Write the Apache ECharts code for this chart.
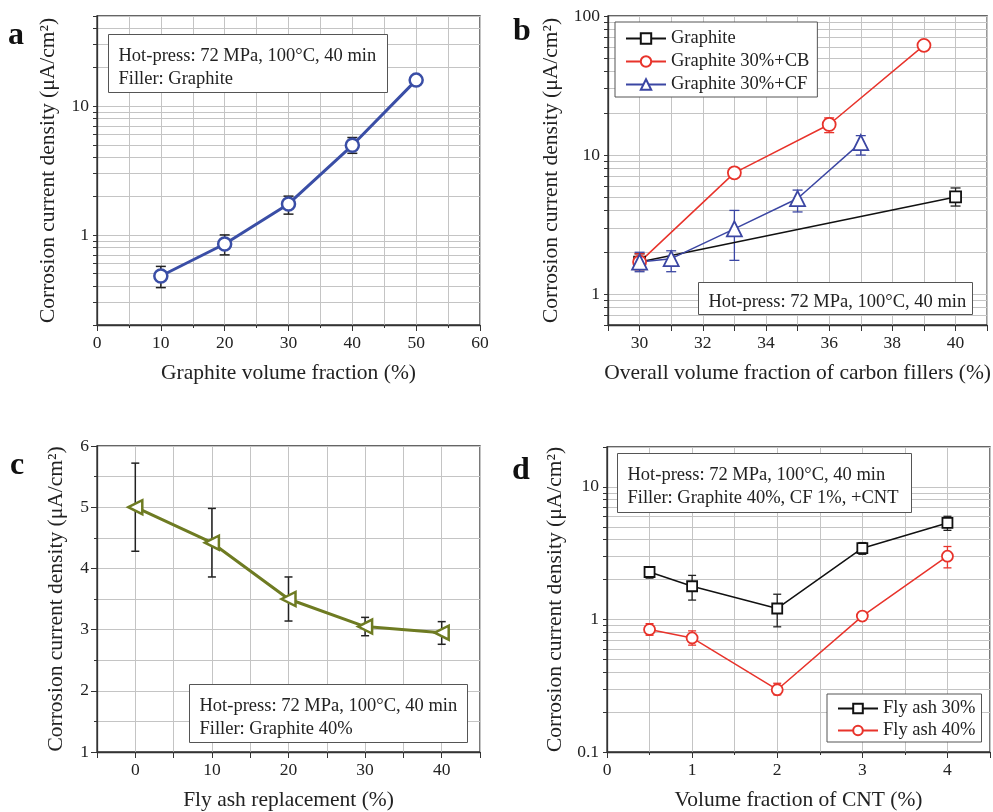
<!DOCTYPE html>
<html><head><meta charset="utf-8">
<script src="https://cdn.jsdelivr.net/npm/echarts@6/dist/echarts.min.js"></script>
<style>html,body{margin:0;padding:0;background:#fff}#c{width:993px;height:812px}</style>
</head><body><div id="c"></div>
<script>
// ---- Panel a ----
const aX = [10, 20, 30, 40, 50];
const aY = [0.48, 0.85, 1.74, 4.96, 15.9];
const aLo = [0.39, 0.70, 1.45, 4.30, 15.0];
const aHi = [0.57, 1.00, 2.00, 5.70, 17.0];
// ---- Panel b ----
const bGrX = [30, 40];
const bGrY = [1.70, 5.00];
const bGrLo = [1.50, 4.30];
const bGrHi = [1.95, 5.80];
const bCbX = [30, 33, 36, 39];
const bCbY = [1.70, 7.45, 16.6, 61.5];
const bCbLo = [1.50, 6.90, 14.5, 57.0];
const bCbHi = [1.95, 8.00, 18.5, 66.0];
const bCfX = [30, 31, 33, 35, 37];
const bCfY = [1.70, 1.80, 2.95, 4.87, 12.3];
const bCfLo = [1.45, 1.45, 1.75, 3.90, 10.0];
const bCfHi = [2.00, 2.05, 4.00, 5.60, 13.8];
// ---- Panel c ----
const cX = [0, 10, 20, 30, 40];
const cY = [5.00, 4.42, 3.50, 3.05, 2.95];
const cLo = [4.28, 3.86, 3.14, 2.90, 2.76];
const cHi = [5.72, 4.98, 3.86, 3.20, 3.13];
// ---- Panel d ----
const dX = [0.5, 1, 2, 3, 4];
const d30Y = [2.28, 1.78, 1.21, 3.45, 5.35];
const d30Lo = [2.05, 1.40, 0.88, 3.10, 4.70];
const d30Hi = [2.50, 2.15, 1.55, 3.80, 6.00];
const d40Y = [0.84, 0.725, 0.295, 1.06, 3.00];
const d40Lo = [0.76, 0.64, 0.27, 1.00, 2.45];
const d40Hi = [0.93, 0.82, 0.33, 1.12, 3.55];
// ---- tick values ----
const aYTicks = [0.2,0.3,0.4,0.5,0.6,0.7,0.8,0.9,1,2,3,4,5,6,7,8,9,10,20,30,40,50];
const aYLabels = [1, 10];
const bYTicks = [0.6,0.7,0.8,0.9,1,2,3,4,5,6,7,8,9,10,20,30,40,50,60,70,80,90,100];
const bYLabels = [1, 10, 100];
const dYTicks = [0.1,0.2,0.3,0.4,0.5,0.6,0.7,0.8,0.9,1,2,3,4,5,6,7,8,9,10,20];
const dYLabels = [0.1, 1, 10];

const FONT = 'Liberation Serif';
const TXT = '#222';
const GRID_C = '#c4c4c4';

function pairs(xs, ys) { return xs.map((x, i) => [x, ys[i]]); }
function errs(xs, lo, hi) { return xs.map((x, i) => [x, lo[i], hi[i]]); }

function errRender(cap, color, w) {
  return function (params, api) {
    const x = api.value(0), lo = api.value(1), hi = api.value(2);
    const p1 = api.coord([x, lo]), p2 = api.coord([x, hi]);
    const st = { stroke: color, lineWidth: w };
    return { type: 'group', children: [
      { type: 'line', shape: { x1: p1[0], y1: p1[1], x2: p2[0], y2: p2[1] }, style: st },
      { type: 'line', shape: { x1: p1[0] - cap, y1: p1[1], x2: p1[0] + cap, y2: p1[1] }, style: st },
      { type: 'line', shape: { x1: p2[0] - cap, y1: p2[1], x2: p2[0] + cap, y2: p2[1] }, style: st }
    ]};
  };
}
function errSeries(gi, data, cap, color, w) {
  return { type: 'custom', xAxisIndex: gi, yAxisIndex: gi, data: data,
    renderItem: errRender(cap, color, w), encode: { x: 0, y: [1, 2] }, z: 2, silent: true };
}
function lineSeries(gi, name, data, color, lw, symbol, size, rot) {
  return { type: 'line', name: name, xAxisIndex: gi, yAxisIndex: gi, data: data,
    symbol: symbol, symbolSize: size, symbolRotate: rot || 0, showSymbol: true,
    lineStyle: { color: color, width: lw },
    itemStyle: { color: '#fff', borderColor: color, borderWidth: lw > 2 ? 2.5 : 1.8 },
    z: 3, animation: false, silent: true };
}

const axLine = { show: true, lineStyle: { color: '#333', width: 1.3 } };
const lbl = { color: TXT, fontFamily: FONT, fontSize: 17.5 };
const nameStyle = { color: TXT, fontFamily: FONT, fontSize: 21.5 };

function xAxisLin(gi, min, max, interval, name, fmt, minor) {
  const o = { type: 'value', gridIndex: gi, min: min, max: max, interval: interval,
    name: name, nameLocation: 'middle', nameGap: 37, nameTextStyle: nameStyle,
    axisLine: Object.assign({ onZero: false }, axLine),
    axisTick: { show: true, inside: false, length: 6, lineStyle: { color: '#333' } },
    axisLabel: Object.assign({ margin: 9, formatter: fmt }, lbl),
    splitLine: { show: true, lineStyle: { color: GRID_C, width: 1 } } };
  if (minor) {
    o.minorTick = { show: true, splitNumber: minor, length: 3, lineStyle: { color: '#333' } };
    o.minorSplitLine = { show: true, lineStyle: { color: GRID_C, width: 1 } };
  }
  return o;
}
function yAxisLog(gi, min, max, ticks, labels, gap) {
  return { type: 'log', logBase: 10, gridIndex: gi, min: min, max: max,
    name: 'Corrosion current density (μA/cm²)', nameLocation: 'middle', nameGap: gap,
    nameTextStyle: nameStyle,
    axisLine: Object.assign({ onZero: false }, axLine),
    axisTick: { show: true, inside: false, length: 4, customValues: ticks, lineStyle: { color: '#333' } },
    axisLabel: Object.assign({ margin: 8, customValues: labels, formatter: v => String(+v.toPrecision(3)) }, lbl),
    splitLine: { show: true, lineStyle: { color: GRID_C, width: 1 } } };
}

const grids = [
  { left: 97, top: 16, width: 383, height: 309 },
  { left: 608, top: 16, width: 382, height: 309 },
  { left: 97, top: 446, width: 383, height: 308 },
  { left: 607, top: 447, width: 383, height: 307 }
].map(g => Object.assign({ show: true, borderColor: '#333', borderWidth: 1.3, backgroundColor: 'transparent' }, g));

const xAxes = [
  xAxisLin(0, 0, 60, 10, 'Graphite volume fraction (%)', v => String(v), 2),
  xAxisLin(1, 29, 41, 1, 'Overall volume fraction of carbon fillers (%)', v => (v % 2 === 0 && v >= 30 && v <= 40) ? String(v) : '', 0),
  xAxisLin(2, -5, 45, 5, 'Fly ash replacement (%)', v => (v % 10 === 0) ? String(v) : '', 0),
  xAxisLin(3, 0, 4.5, 1, 'Volume fraction of CNT (%)', v => (Number.isInteger(v)) ? String(v) : '', 2)
];
const cY_axis = { type: 'value', gridIndex: 2, min: 1, max: 6, interval: 1,
  name: 'Corrosion current density (μA/cm²)', nameLocation: 'middle', nameGap: 30, nameTextStyle: nameStyle,
  axisLine: Object.assign({ onZero: false }, axLine),
  axisTick: { show: true, inside: false, length: 6, lineStyle: { color: '#333' } },
  axisLabel: Object.assign({ margin: 8 }, lbl),
  splitLine: { show: true, lineStyle: { color: GRID_C, width: 1 } },
  minorTick: { show: true, splitNumber: 2, length: 3, lineStyle: { color: '#333' } },
  minorSplitLine: { show: true, lineStyle: { color: GRID_C, width: 1 } } };
const yAxes = [
  yAxisLog(0, 0.2, 50, aYTicks, aYLabels, 38),
  yAxisLog(1, 0.6, 100, bYTicks, bYLabels, 46),
  cY_axis,
  yAxisLog(3, 0.1, 20, dYTicks, dYLabels, 41)
];

const series = [
  errSeries(0, errs(aX, aLo, aHi), 5, '#222', 1.5),
  lineSeries(0, 'a', pairs(aX, aY), '#3a4ea6', 3, 'circle', 13),

  errSeries(1, errs(bGrX, bGrLo, bGrHi), 5, '#222', 1.3),
  errSeries(1, errs(bCbX, bCbLo, bCbHi), 5, '#e8332b', 1.3),
  errSeries(1, errs(bCfX, bCfLo, bCfHi), 5, '#3b46a3', 1.3),
  lineSeries(1, 'Graphite', pairs(bGrX, bGrY), '#111', 1.5, 'rect', 11),
  lineSeries(1, 'Graphite 30%+CB', pairs(bCbX, bCbY), '#e8332b', 1.5, 'circle', 13),
  lineSeries(1, 'Graphite 30%+CF', pairs(bCfX, bCfY), '#3b46a3', 1.5, 'triangle', 15),

  errSeries(2, errs(cX, cLo, cHi), 4, '#222', 1.5),
  lineSeries(2, 'c', pairs(cX, cY), '#6e7b22', 3, 'triangle', 14, 90),

  errSeries(3, errs(dX, d30Lo, d30Hi), 4, '#222', 1.3),
  errSeries(3, errs(dX, d40Lo, d40Hi), 4, '#e8332b', 1.3),
  lineSeries(3, 'Fly ash 30%', pairs(dX, d30Y), '#111', 1.5, 'rect', 10),
  lineSeries(3, 'Fly ash 40%', pairs(dX, d40Y), '#e8332b', 1.5, 'circle', 11)
];

const legendText = { color: TXT, fontFamily: FONT, fontSize: 18.5 };
const legends = [
  { data: ['Graphite', 'Graphite 30%+CB', 'Graphite 30%+CF'], left: 615, top: 22, orient: 'vertical',
    itemWidth: 40, itemHeight: 13, itemGap: 4, padding: [7, 8, 3, 10], textStyle: legendText,
    borderColor: '#555', borderWidth: 1, backgroundColor: '#fff' },
  { data: ['Fly ash 30%', 'Fly ash 40%'], left: 827, top: 694, orient: 'vertical',
    itemWidth: 40, itemHeight: 12, itemGap: 3, padding: [5, 6, 2, 10], textStyle: legendText,
    borderColor: '#555', borderWidth: 1, backgroundColor: '#fff' }
];

function box(x, y, w, h, lines) {
  return { type: 'group', left: x, top: y, z: 100, children: [
    { type: 'rect', z: 100, shape: { x: 0, y: 0, width: w, height: h }, style: { fill: '#fff', stroke: '#555', lineWidth: 1 } },
    { type: 'text', z: 101, x: 10, y: h > 40 ? 10 : 8, style: { text: lines.join('\n'), font: '18.5px "Liberation Serif"', fill: TXT, lineHeight: 23 } }
  ]};
}
const letter = (t, x, y) => ({ type: 'text', left: x, top: y, z: 100,
  style: { text: t, font: 'bold 32px "Liberation Serif"', fill: '#111' } });

const graphics = [
  box(108, 34, 279, 58, ['Hot-press: 72 MPa, 100°C, 40 min', 'Filler: Graphite']),
  box(698, 282, 274, 32, ['Hot-press: 72 MPa, 100°C, 40 min']),
  box(189, 684, 278, 58, ['Hot-press: 72 MPa, 100°C, 40 min', 'Filler: Graphite 40%']),
  box(617, 453, 294, 59, ['Hot-press: 72 MPa, 100°C, 40 min', 'Filler: Graphite 40%, CF 1%, +CNT']),
  letter('a', 8, 20), letter('b', 513, 16), letter('c', 10, 450), letter('d', 512, 455)
];

const chart = echarts.init(document.getElementById('c'), null, { renderer: 'canvas' });
chart.setOption({
  animation: false,
  textStyle: { fontFamily: FONT },
  grid: grids, xAxis: xAxes, yAxis: yAxes, series: series, legend: legends, graphic: graphics
});
</script></body></html>
